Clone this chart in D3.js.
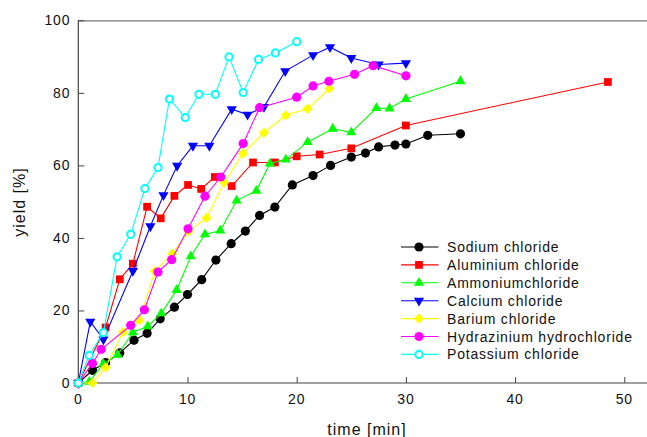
<!DOCTYPE html>
<html>
<head>
<meta charset="utf-8">
<script src="https://cdn.jsdelivr.net/npm/d3@7"></script>
<style>
  html, body { margin: 0; padding: 0; background: #fff; }
  svg { display: block; }
  text { font-family: Arial, "Liberation Sans", sans-serif; fill: #111; }
</style>
</head>
<body>
<svg id="chart" width="647" height="437"></svg>
<script>
// Reaction yield over time for different salts
const seriesNames = ["Sodium chloride", "Aluminium chloride", "Ammoniumchloride",
  "Calcium chloride", "Barium chloride", "Hydrazinium hydrochloride", "Potassium chloride"];

const sodiumTime  = [0, 1.3, 2.5, 3.8, 5.1, 6.3, 7.5, 8.8, 10, 11.3, 12.6, 14, 15.3, 16.6, 18, 19.6, 21.5, 23.1, 25, 26.3, 27.5, 29, 30, 32, 35];
const sodiumYield = [0, 3.5, 5.6, 8.3, 11.8, 13.7, 17.7, 20.9, 24.4, 28.5, 33.9, 38.4, 41.9, 46.2, 48.5, 54.6, 57.2, 60, 62.3, 63.4, 65.1, 65.6, 65.9, 68.3, 68.7];

const aluminiumTime  = [0, 2.5, 3.8, 5.0, 6.3, 7.55, 8.8, 10.05, 11.25, 12.5, 14.05, 16, 18, 20, 22.1, 25, 30, 48.5];
const aluminiumYield = [0, 15.3, 28.6, 32.9, 48.6, 45.4, 51.6, 54.6, 53.5, 56.8, 54.3, 60.8, 60.8, 62.5, 63, 64.7, 71, 83];

const ammoniumTime  = [0, 1.0, 2.3, 3.6, 5.0, 6.35, 7.6, 9.0, 10.3, 11.6, 13.0, 14.5, 16.3, 17.55, 19.0, 21.0, 23.3, 25.0, 27.3, 28.5, 30.0, 35.0];
const ammoniumYield = [0, 0.3, 5.3, 7.8, 14.0, 15.6, 19.2, 25.6, 34.9, 41.0, 42.0, 50.3, 53.0, 60.5, 61.6, 66.4, 70.1, 69.1, 75.8, 75.7, 78.3, 83.2];

const calciumTime  = [0, 1.1, 2.3, 5.0, 6.6, 7.8, 9.05, 10.5, 12.0, 14.05, 15.5, 17.0, 18.95, 21.5, 23.05, 25.0, 27.5, 30.0];
const calciumYield = [0, 16.9, 12.0, 30.9, 43.2, 51.8, 59.9, 65.4, 65.4, 75.5, 74.0, 76.1, 86.0, 90.4, 92.6, 89.6, 87.8, 88.2];

const bariumTime  = [0, 1.3, 2.5, 4.1, 5.6, 7.0, 8.6, 10.1, 11.75, 13.35, 15.1, 17.0, 19.0, 21.0, 23.0];
const bariumYield = [0, 0, 4.3, 14.0, 17.3, 30.8, 35.6, 41.8, 45.5, 55.3, 63.3, 69.0, 73.8, 75.6, 81.2];

const hydraziniumTime  = [0, 1.3, 2.1, 4.8, 6.05, 7.3, 8.55, 10.05, 11.6, 13.05, 15.1, 16.6, 20.0, 21.5, 22.95, 25.3, 27.0, 30.0];
const hydraziniumYield = [0, 5.4, 9.3, 15.9, 20.2, 30.6, 34.0, 42.5, 51.5, 56.8, 66.0, 75.9, 78.8, 81.9, 83.2, 85.1, 87.5, 84.7];

const potassiumTime  = [0, 1.0, 2.3, 3.55, 4.8, 6.1, 7.3, 8.35, 9.8, 11.05, 12.55, 13.8, 15.1, 16.5, 18.05, 20.0];
const potassiumYield = [0, 7.6, 13.9, 34.8, 41.0, 53.6, 59.4, 78.3, 73.2, 79.6, 79.6, 89.9, 80.1, 89.2, 91.0, 94.1];

const xTicks = [0, 10, 20, 30, 40, 50];
const yTicks = [0, 20, 40, 60, 80, 100];

const seriesColors = ["#000000", "#ff0000", "#00ff00", "#0000ff", "#ffff00", "#ff00ff", "#00ffff"];
const seriesMarkers = ["circle", "square", "triangleUp", "triangleDown", "diamond", "circle", "openCircle"];

const times  = [sodiumTime, aluminiumTime, ammoniumTime, calciumTime, bariumTime, hydraziniumTime, potassiumTime];
const yields = [sodiumYield, aluminiumYield, ammoniumYield, calciumYield, bariumYield, hydraziniumYield, potassiumYield];

const series = seriesNames.map((name, i) => ({
  name, color: seriesColors[i], marker: seriesMarkers[i],
  points: times[i].map((t, j) => ({ t, v: yields[i][j] }))
}));

const W = 647, H = 437;
const x = d3.scaleLinear().domain([0, 50]).range([78.3, 624.3]);
const y = d3.scaleLinear().domain([0, 100]).range([383, 20.3]);

const svg = d3.select("#chart");
const axisColor = "#444";

// frame: top line
svg.append("line")
  .attr("x1", x(0)).attr("x2", W)
  .attr("y1", y(100) + 0.5).attr("y2", y(100) + 0.5)
  .attr("stroke", "#777").attr("stroke-width", 1.3);

// x axis (ticks drawn inward)
const xAxis = d3.axisTop(x).tickValues(xTicks).tickSize(6).tickFormat("");
const gx = svg.append("g").attr("transform", `translate(0,${y(0)})`).call(xAxis);
gx.select(".domain").remove();
gx.selectAll(".tick line").attr("stroke", axisColor);
gx.append("line").attr("x1", x(0)).attr("x2", W).attr("y1", 0).attr("y2", 0)
  .attr("stroke", axisColor).attr("stroke-width", 1.2);
svg.append("g").selectAll("text").data(xTicks).join("text")
  .attr("x", d => x(d)).attr("y", y(0) + 21)
  .attr("text-anchor", "middle")
  .attr("font-size", 14).attr("letter-spacing", 0.8)
  .text(d => d);

// y axis (ticks drawn inward)
const yAxis = d3.axisRight(y).tickValues(yTicks).tickSize(6).tickFormat("");
const gy = svg.append("g").attr("transform", `translate(${x(0)},0)`).call(yAxis);
gy.select(".domain").remove();
gy.selectAll(".tick line").attr("stroke", axisColor);
gy.append("line").attr("x1", 0).attr("x2", 0).attr("y1", y(0)).attr("y2", y(100))
  .attr("stroke", axisColor).attr("stroke-width", 1.2);
svg.append("g").selectAll("text").data(yTicks).join("text")
  .attr("x", x(0) - 8).attr("y", d => y(d) + 5)
  .attr("text-anchor", "end")
  .attr("font-size", 14).attr("letter-spacing", 0.8)
  .text(d => d);

// axis titles
svg.append("text")
  .attr("x", 367).attr("y", 435)
  .attr("text-anchor", "middle")
  .attr("font-size", 16).attr("letter-spacing", 1)
  .text("time [min]");
svg.append("text")
  .attr("transform", "translate(25,202) rotate(-90)")
  .attr("text-anchor", "middle")
  .attr("font-size", 16).attr("letter-spacing", 1)
  .text("yield [%]");

// marker shapes
function drawMarker(g, kind, color) {
  if (kind === "circle") {
    g.append("circle").attr("r", 4.6).attr("fill", color);
  } else if (kind === "openCircle") {
    g.append("circle").attr("r", 3.6).attr("fill", "#fff").attr("stroke", color).attr("stroke-width", 2);
  } else if (kind === "square") {
    g.append("path").attr("d", d3.symbol(d3.symbolSquare, 60)()).attr("fill", color);
  } else if (kind === "triangleUp") {
    g.append("path").attr("d", d3.symbol(d3.symbolTriangle, 45)()).attr("fill", color);
  } else if (kind === "triangleDown") {
    g.append("path").attr("d", d3.symbol(d3.symbolTriangle, 45)()).attr("transform", "rotate(180)").attr("fill", color);
  } else if (kind === "diamond") {
    g.append("path").attr("d", d3.symbol(d3.symbolSquare, 52)()).attr("transform", "rotate(45)").attr("fill", color);
  }
}

const line = d3.line().x(d => x(d.t)).y(d => y(d.v));

series.forEach(s => {
  const g = svg.append("g");
  g.append("path").datum(s.points)
    .attr("d", line).attr("fill", "none")
    .attr("stroke", s.color).attr("stroke-width", 1.1);
  g.selectAll("g.m").data(s.points).join("g")
    .attr("class", "m")
    .attr("transform", d => `translate(${x(d.t)},${y(d.v)})`)
    .each(function () { drawMarker(d3.select(this), s.marker, s.color); });
});

// legend
const legend = svg.append("g");
series.forEach((s, i) => {
  const ly = 247 + i * 17.9;
  const item = legend.append("g").attr("transform", `translate(0,${ly})`);
  item.append("line").attr("x1", 401).attr("x2", 438.5).attr("y1", 0).attr("y2", 0)
    .attr("stroke", s.color).attr("stroke-width", 1.1);
  const m = item.append("g").attr("transform", "translate(419,0)");
  drawMarker(m, s.marker, s.color);
  item.append("text").attr("x", 447).attr("y", 5)
    .attr("font-size", 14).attr("letter-spacing", 0.8)
    .text(s.name);
});
</script>
</body>
</html>
